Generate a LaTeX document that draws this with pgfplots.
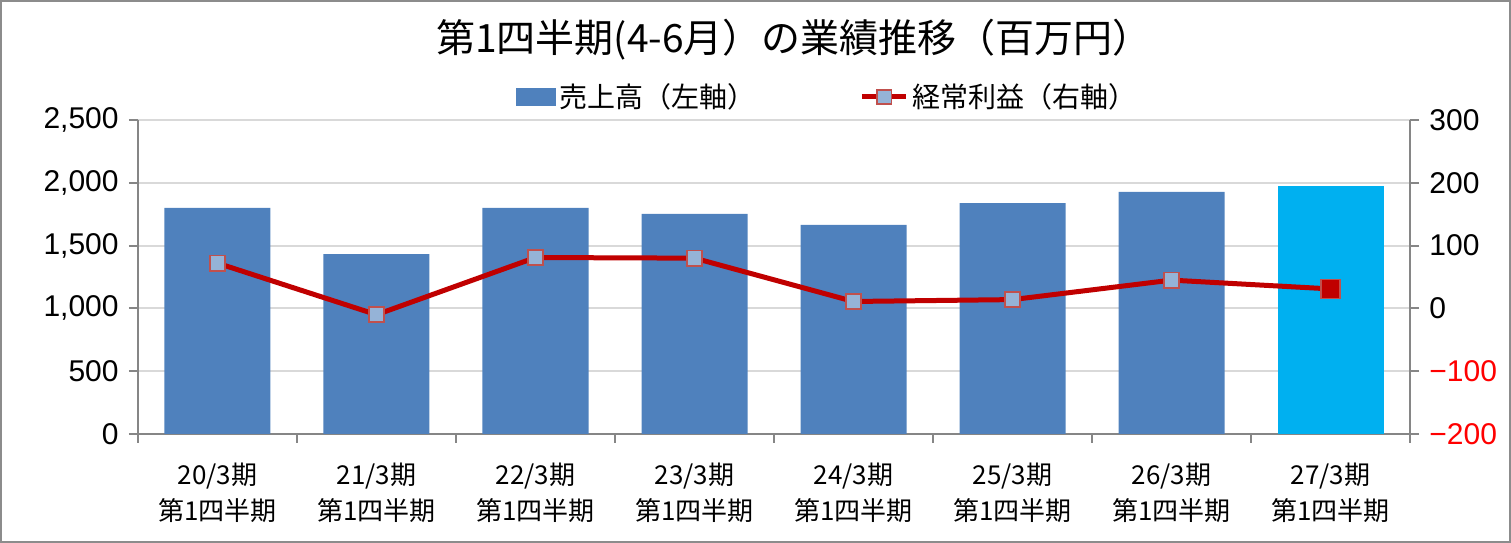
\documentclass[border=0pt]{standalone}
\usepackage{fontspec}
\setmainfont{Noto Sans CJK JP}
\newfontfamily\numfont{Liberation Sans}
\usepackage{pgfplots}
\pgfplotsset{compat=1.18}
\usetikzlibrary{calc}
\definecolor{barblue}{HTML}{4F81BD}
\definecolor{barcyan}{HTML}{00B0F0}
\definecolor{linered}{HTML}{C00000}
\definecolor{mkfill}{HTML}{95B3D7}
\definecolor{mkedge}{HTML}{C0504D}
\definecolor{axgray}{HTML}{868686}
\definecolor{gridgray}{HTML}{D9D9D9}
\definecolor{framegray}{HTML}{8C8C8C}
\begin{document}
\begin{tikzpicture}
\pgfplotsset{
  common/.style={
    scale only axis, width=636pt, height=157pt,
    xmin=-0.5, xmax=7.5,
    axis line style={draw=axgray, line width=1pt},
    tick style={draw=axgray, line width=1pt},
    tick align=outside,
    major tick length=4.5pt,
  }
}
\begin{axis}[name=ax1, common,
  ymin=0, ymax=2500,
  axis y line*=left, axis x line*=bottom,
  ytick={0,500,1000,1500,2000,2500},
  yticklabels={0,500,{1,000},{1,500},{2,000},{2,500}},
  yticklabel style={font=\numfont\fontsize{15pt}{17pt}\selectfont, inner sep=0pt, xshift=-5pt},
  ymajorgrids, grid style={draw=gridgray, line width=1pt},
  xtick={0,...,7},
  xticklabels={{20/3期\\第1四半期},{21/3期\\第1四半期},{22/3期\\第1四半期},{23/3期\\第1四半期},{24/3期\\第1四半期},{25/3期\\第1四半期},{26/3期\\第1四半期},{27/3期\\第1四半期}},
  xticklabel style={font=\fontsize{13pt}{18pt}\selectfont, align=center, inner sep=0pt, yshift=-10pt},
  x tick style={draw=none},
  minor xtick={-0.5,0.5,...,7.5},
  minor x tick style={draw=axgray, line width=1pt},
  minor tick length=4.5pt,
  legend columns=2,
  legend style={at={(axis description cs:0.5,1)}, anchor=center, xshift=27pt, yshift=11.5pt,
    draw=none, fill=none, font=\fontsize{14pt}{16pt}\selectfont,
    /tikz/every even column/.append style={column sep=50pt}},
]
\addplot[ybar, bar width=53pt, bar shift=0pt, fill=barblue, draw=none,
  legend image code/.code={\fill[barblue] (0pt,-4.5pt) rectangle (20pt,4.5pt);}]
  coordinates {(0,1800) (1,1433) (2,1800) (3,1752) (4,1664) (5,1839) (6,1927)};
\addlegendentry{売上高（左軸）}
\addplot[ybar, bar width=53pt, bar shift=0pt, fill=barcyan, draw=none, forget plot]
  coordinates {(7,1975)};
\addlegendimage{legend image code/.code={
  \draw[linered, line width=2.5pt] (0pt,0pt) -- (22pt,0pt);
  \draw[mkedge, fill=mkfill, line width=0.8pt] (7.5pt,-3.6pt) rectangle (14.7pt,3.6pt);}}
\addlegendentry{経常利益（右軸）}
\end{axis}
\begin{axis}[common,
  ymin=-200, ymax=300,
  axis y line*=right, axis x line=none,
  ytick={-200,-100,0,100,200,300},
  yticklabels={{\color{red}−200},{\color{red}−100},0,100,200,300},
  yticklabel style={font=\numfont\fontsize{15pt}{17pt}\selectfont, inner sep=0pt, xshift=5pt},
]
\addplot[linered, line width=2.5pt, mark=square*, mark size=3.8pt,
  mark options={fill=mkfill, draw=mkedge, line width=0.8pt}]
  coordinates {(0,72) (1,-10) (2,81) (3,80) (4,11) (5,14) (6,45) (7,31)};
\addplot[only marks, mark=square*, mark size=4.8pt,
  mark options={fill=linered, draw=mkedge, line width=0.8pt}]
  coordinates {(7,31)};
\end{axis}
\node[font=\fontsize{19.5pt}{22pt}\selectfont] at ($(ax1.north)+(10pt,40pt)$) {第1四半期(4-6月）の業績推移（百万円）};
\pgfresetboundingbox
\useasboundingbox ($(ax1.south west)+(-69pt,-54.5pt)$) rectangle ($(ax1.north east)+(50.5pt,60pt)$);
\draw[framegray, line width=1pt] ($(ax1.south west)+(-68.5pt,-54pt)$) rectangle ($(ax1.north east)+(50pt,59.5pt)$);
\end{tikzpicture}
\end{document}
